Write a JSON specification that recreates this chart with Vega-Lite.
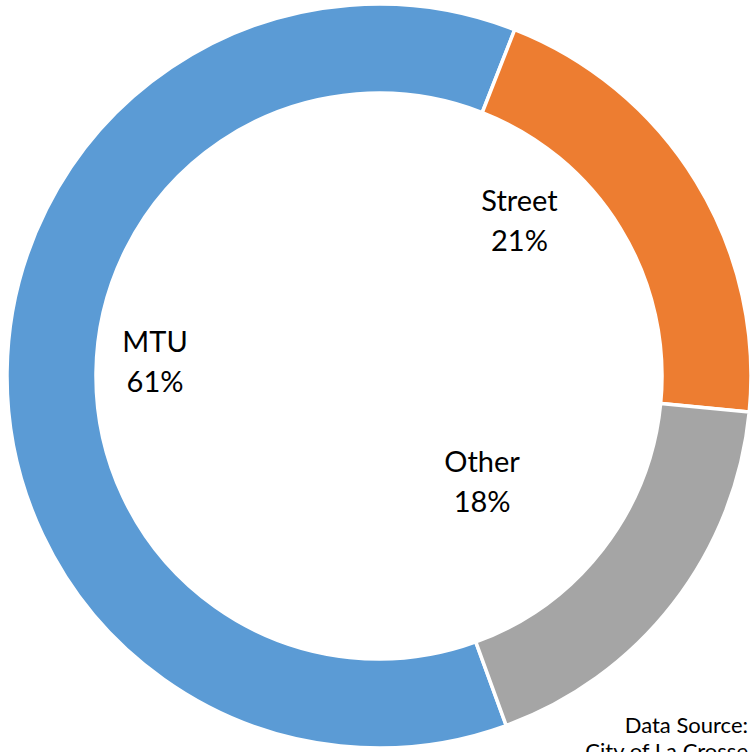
{
  "$schema": "https://vega.github.io/schema/vega-lite/v6.json",
  "width": 744,
  "height": 746,
  "autosize": {"type": "none"},
  "padding": {"left": 7, "top": 3, "right": 0, "bottom": 3},
  "background": "white",
  "view": {"stroke": null},
  "title": {
    "text": ["Data Source:", "City of La Crosse"],
    "orient": "bottom",
    "anchor": "end",
    "frame": "group",
    "offset": -39,
    "dx": -3,
    "font": "Lato",
    "fontSize": 22,
    "fontWeight": "normal",
    "color": "#000000",
    "lineHeight": 26
  },
  "data": {
    "values": [
      {"cat": "MTU", "value": 61.5, "label": "MTU\n61%"},
      {"cat": "Street", "value": 20.6, "label": "Street\n21%"},
      {"cat": "Other", "value": 17.9, "label": "Other\n18%"}
    ]
  },
  "encoding": {
    "theta": {
      "field": "value",
      "type": "quantitative",
      "stack": true,
      "scale": {"type": "linear", "domain": [0, 100], "range": [2.7925, 9.0757], "zero": true}
    },
    "order": {"field": "value", "type": "quantitative", "sort": "descending"}
  },
  "layer": [
    {
      "mark": {"type": "arc", "outerRadius": 372, "innerRadius": 283, "stroke": "white", "strokeWidth": 3.5},
      "encoding": {
        "color": {
          "field": "cat",
          "type": "nominal",
          "scale": {"domain": ["MTU", "Street", "Other"], "range": ["#5B9BD5", "#ED7D31", "#A5A5A5"]},
          "legend": null
        }
      }
    },
    {
      "mark": {
        "type": "text",
        "radius": 200,
        "dx": {"expr": "datum.cat === 'Street' ? -30 : datum.cat === 'Other' ? -55 : -24"},
        "dy": {"expr": "datum.cat === 'Street' ? -69 : datum.cat === 'Other' ? -36 : -31"},
        "font": "Lato",
        "fontSize": 29,
        "lineBreak": "\n",
        "lineHeight": 40,
        "align": "center",
        "baseline": "middle",
        "color": "#000000"
      },
      "encoding": {"text": {"field": "label"}}
    }
  ]
}
